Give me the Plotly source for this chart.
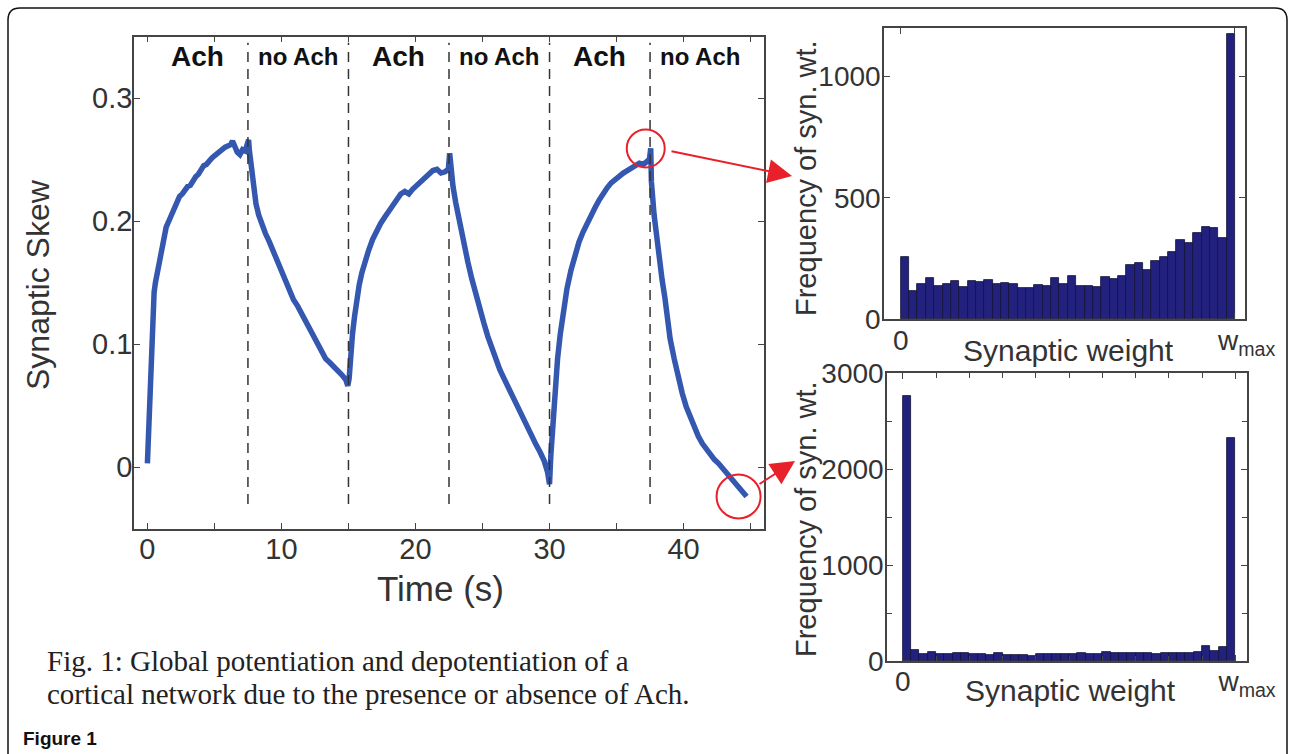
import plotly.graph_objects as go

# ---------------- data ----------------
time_s = [0.0, 0.1, 0.2, 0.3, 0.4, 0.5, 0.6, 0.75, 0.9, 1.05, 1.2, 1.4, 1.6, 1.8, 2.0, 2.2, 2.4, 2.6, 2.8, 3.0,
          3.2, 3.4, 3.6, 3.8, 4.0, 4.2, 4.4, 4.6, 4.8, 5.0, 5.2, 5.4, 5.6, 5.8, 6.0, 6.2, 6.35, 6.5, 6.7, 6.9,
          7.1, 7.3, 7.45, 7.55,
          7.6, 7.75, 7.9, 8.1, 8.3, 8.5, 8.8, 9.1, 9.4, 9.7, 10.0, 10.3, 10.6, 10.9, 11.2, 11.5, 11.8, 12.1,
          12.4, 12.7, 13.0, 13.3, 13.6, 13.9, 14.2, 14.5, 14.8, 14.95,
          15.05, 15.15, 15.3, 15.45, 15.6, 15.8, 16.0, 16.25, 16.5, 16.8, 17.1, 17.4, 17.7, 18.0, 18.3, 18.6,
          18.9, 19.2, 19.5, 19.8, 20.1, 20.4, 20.7, 21.0, 21.3, 21.6, 21.9, 22.2, 22.45, 22.55,
          22.65, 22.8, 23.0, 23.3, 23.6, 23.9, 24.2, 24.5, 24.8, 25.1, 25.4, 25.7, 26.0, 26.3, 26.6, 26.9,
          27.2, 27.5, 27.8, 28.1, 28.4, 28.7, 29.0, 29.3, 29.6, 29.85, 30.0,
          30.1, 30.25, 30.4, 30.6, 30.8, 31.0, 31.3, 31.6, 31.9, 32.2, 32.5, 32.8, 33.1, 33.4, 33.7, 34.0,
          34.3, 34.6, 34.9, 35.2, 35.5, 35.8, 36.1, 36.4, 36.7, 37.0, 37.3, 37.45, 37.55,
          37.6, 37.8, 38.0, 38.2, 38.4, 38.6, 38.8, 39.0, 39.3, 39.6, 39.9, 40.2, 40.5, 40.8, 41.1, 41.4,
          41.7, 42.0, 42.3, 42.6, 42.9, 43.2, 43.5, 43.8, 44.1, 44.4, 44.7]
skew = [0.003, 0.035, 0.075, 0.105, 0.128, 0.142, 0.150, 0.158, 0.165, 0.175, 0.185, 0.195, 0.200, 0.205, 0.211,
        0.216, 0.220, 0.222, 0.226, 0.228, 0.229, 0.233, 0.236, 0.238, 0.242, 0.245, 0.246, 0.249, 0.251, 0.253,
        0.255, 0.257, 0.258, 0.260, 0.261, 0.262, 0.265, 0.261, 0.256, 0.254, 0.258, 0.257, 0.262, 0.266,
        0.258, 0.243, 0.228, 0.214, 0.205, 0.198, 0.190, 0.183, 0.175, 0.166, 0.158, 0.150, 0.142, 0.136,
        0.131, 0.125, 0.119, 0.113, 0.107, 0.100, 0.094, 0.088, 0.085, 0.082, 0.078, 0.075, 0.071, 0.066,
        0.072, 0.090, 0.108, 0.122, 0.135, 0.148, 0.158, 0.168, 0.176, 0.185, 0.192, 0.198, 0.203, 0.208,
        0.212, 0.217, 0.222, 0.224, 0.222, 0.226, 0.229, 0.231, 0.234, 0.238, 0.241, 0.242, 0.239, 0.240,
        0.242, 0.255,
        0.240, 0.228, 0.215, 0.198, 0.182, 0.167, 0.153, 0.140, 0.128, 0.117, 0.106, 0.096, 0.087, 0.079,
        0.072, 0.065, 0.058, 0.052, 0.045, 0.038, 0.031, 0.025, 0.018, 0.012, 0.005, -0.004, -0.014,
        0.010, 0.038, 0.062, 0.088, 0.108, 0.125, 0.145, 0.160, 0.172, 0.183, 0.191, 0.198, 0.206, 0.211,
        0.217, 0.223, 0.227, 0.231, 0.234, 0.237, 0.239, 0.241, 0.243, 0.246, 0.247, 0.246, 0.249, 0.250, 0.259,
        0.232, 0.205, 0.185, 0.168, 0.152, 0.138, 0.120, 0.104, 0.088, 0.073, 0.060, 0.049, 0.040, 0.032,
        0.025, 0.019, 0.014, 0.010, 0.006, 0.003, -0.001, -0.004, -0.008, -0.012, -0.016, -0.020, -0.024]

phase_bounds = [0, 7.5, 15, 22.5, 30, 37.5, 45]
phase_labels = ["Ach", "no Ach", "Ach", "no Ach", "Ach", "no Ach"]

bin_index = list(range(40))
hist_top = [256, 116, 144, 169, 137, 144, 158, 134, 155, 151, 162, 144, 147, 144, 127, 127, 141, 137, 169, 144,
            179, 137, 137, 134, 172, 165, 179, 221, 232, 203, 239, 256, 277, 325, 314, 353, 378, 374, 332, 1175]
hist_bottom = [2760, 111, 77, 94, 70, 70, 84, 87, 77, 77, 59, 84, 59, 59, 59, 52, 70, 70, 77, 70,
               77, 84, 77, 77, 94, 84, 87, 87, 84, 84, 70, 87, 87, 87, 87, 94, 153, 101, 146, 2324]

skew_ticks = [0, 0.1, 0.2, 0.3]
skew_ticktext = ["0", "0.1", "0.2", "0.3"]
time_ticks = [0, 10, 20, 30, 40]
weight_ticks = [0, 40]
weight_ticktext = ["0", "\u00a0\u00a0\u00a0w<sub>max</sub>"]
top_freq_ticks = [0, 500, 1000]
bottom_freq_ticks = [0, 1000, 2000, 3000]

# ---------------- figure ----------------
W, H = 1290, 754
SANS = "Liberation Sans, Arial, sans-serif"
SERIF = "Liberation Serif, Times New Roman, serif"
AX = "#444444"
TXT = "#333333"
BLUE = "#3457b0"
BAR = "#22227e"
RED = "#e8202a"


def px(x):
    return x / W


def py(y):
    return 1 - y / H


fig = go.Figure()
fig.add_trace(go.Scatter(x=time_s, y=skew, mode="lines", line=dict(color=BLUE, width=5.5),
                         xaxis="x", yaxis="y", showlegend=False, hoverinfo="skip"))
bar_x = [i + 0.5 for i in bin_index]
fig.add_trace(go.Bar(x=bar_x, y=hist_top, width=1, marker=dict(color=BAR, line=dict(color="#111133", width=0.8)),
                     xaxis="x2", yaxis="y2", showlegend=False))
fig.add_trace(go.Bar(x=bar_x, y=hist_bottom, width=1, marker=dict(color=BAR, line=dict(color="#111133", width=0.8)),
                     xaxis="x3", yaxis="y3", showlegend=False))


def axstyle(size, standoff):
    return dict(showline=True, linecolor=AX, linewidth=1.5, mirror="ticks", ticks="inside", ticklen=6,
                tickcolor=AX, tickwidth=1.2, showgrid=False, zeroline=False, automargin=False,
                ticklabelstandoff=standoff,
                tickfont=dict(family=SANS, size=size, color=TXT))


fig.update_layout(
    width=W, height=H, autosize=False,
    margin=dict(l=0, r=0, t=0, b=0, pad=0, autoexpand=False),
    paper_bgcolor="white", plot_bgcolor="white",
    bargap=0,
    xaxis=dict(domain=[px(134), px(764)], range=[-1, 46], anchor="y", tickvals=time_ticks,
               minor=dict(dtick=5, tick0=0, ticks="inside", ticklen=6, tickcolor=AX), **axstyle(29, -6)),
    yaxis=dict(domain=[py(528.5), py(36.5)], range=[-0.05, 0.35], anchor="x", tickvals=skew_ticks,
               ticktext=skew_ticktext, **axstyle(29, -6)),
    xaxis2=dict(domain=[px(884), px(1245)], range=[-2, 41.2], anchor="y2", tickvals=weight_ticks,
                ticktext=weight_ticktext, **axstyle(28, -4)),
    yaxis2=dict(domain=[py(319), py(28)], range=[0, 1200], anchor="x2", tickvals=top_freq_ticks,
                **axstyle(28, -4)),
    xaxis3=dict(domain=[px(887), px(1247)], range=[-1.9, 41.4], anchor="y3", tickvals=weight_ticks,
                ticktext=weight_ticktext,
                minor=dict(dtick=4, tick0=0, ticks="inside", ticklen=5, tickcolor=AX), **axstyle(28, -5)),
    yaxis3=dict(domain=[py(661), py(373)], range=[0, 3000], anchor="x3", tickvals=bottom_freq_ticks,
                minor=dict(dtick=500, tick0=0, ticks="inside", ticklen=5, tickcolor=AX), **axstyle(28, -4)),
)

shapes = []
# dashed phase boundaries
for b in phase_bounds[1:-1]:
    shapes.append(dict(type="line", xref="x", yref="y", x0=b, x1=b, y0=-0.03, y1=0.345,
                       line=dict(color="#333333", width=1.5, dash="10px,7px")))
# red circles around the last peak and the final point
peak_i = max(range(len(time_s)), key=lambda i: skew[i] if time_s[i] > 30 else -1)
shapes.append(dict(type="circle", xref="x", yref="y", xsizemode="pixel", ysizemode="pixel",
                   xanchor=time_s[peak_i], yanchor=skew[peak_i], x0=-24, x1=14, y0=-19, y1=19,
                   line=dict(color=RED, width=2)))
shapes.append(dict(type="circle", xref="x", yref="y", xsizemode="pixel", ysizemode="pixel",
                   xanchor=time_s[-1], yanchor=skew[-1], x0=-30, x1=14, y0=-22, y1=22,
                   line=dict(color=RED, width=2)))
# outer rounded frame
r_x, r_y = 12 / W, 12 / H
x0, x1, yt = px(8), px(1287), py(8)
shapes.append(dict(type="path", xref="paper", yref="paper",
                   path=f"M {x0},-0.05 L {x0},{yt - r_y} Q {x0},{yt} {x0 + r_x},{yt} "
                        f"L {x1 - r_x},{yt} Q {x1},{yt} {x1},{yt - r_y} L {x1},-0.05",
                   line=dict(color="#111111", width=1.5)))
fig.update_layout(shapes=shapes)


def label(xp, yp, text, size, angle=0, family=SANS, color=TXT, xanchor="center"):
    return dict(x=px(xp), y=py(yp), xref="paper", yref="paper", text=text, textangle=angle,
                xanchor=xanchor, yanchor="middle", showarrow=False,
                font=dict(family=family, size=size, color=color))


ann = []
# phase labels
for i, lab in enumerate(phase_labels):
    c = (phase_bounds[i] + phase_bounds[i + 1]) / 2
    size = 28 if lab == "Ach" else 24
    ann.append(dict(x=c, y=0.334, xref="x", yref="y", text=f"<b>{lab}</b>", showarrow=False,
                    xanchor="center", yanchor="middle",
                    font=dict(family=SANS, size=size, color="#111111")))
# axis titles
ann.append(label(38, 285, "Synaptic Skew", 32, angle=-90))
ann.append(label(440, 588, "Time (s)", 35))
ann.append(label(806, 178, "Frequency of syn. wt.", 29, angle=-90))
ann.append(label(806, 519, "Frequency of syn. wt.", 29, angle=-90))
ann.append(label(1068, 350, "Synaptic weight", 30))
ann.append(label(1070, 690, "Synaptic weight", 30))
# red arrows
ann.append(dict(x=px(792), y=py(176), xref="paper", yref="paper", ax=-122, ay=-25, text="",
                showarrow=True, arrowhead=2, arrowsize=2.4, arrowwidth=2, arrowcolor=RED))
ann.append(dict(x=px(795), y=py(461), xref="paper", yref="paper", ax=-37, ay=24, text="",
                showarrow=True, arrowhead=2, arrowsize=2.4, arrowwidth=2, arrowcolor=RED))
# caption
ann.append(label(45, 661, "Fig. 1: Global potentiation and depotentiation of a", 29,
                 family=SERIF, color="#222222", xanchor="left"))
ann.append(label(45, 694, "cortical network due to the presence or absence of Ach.", 29,
                 family=SERIF, color="#222222", xanchor="left"))
ann.append(label(21, 738, "<b>Figure 1</b>", 19, color="#111111", xanchor="left"))
fig.update_layout(annotations=ann)

fig.write_html("out.html", config={"displayModeBar": False},
               post_script="document.body.style.margin='0';document.body.style.overflow='hidden';")
